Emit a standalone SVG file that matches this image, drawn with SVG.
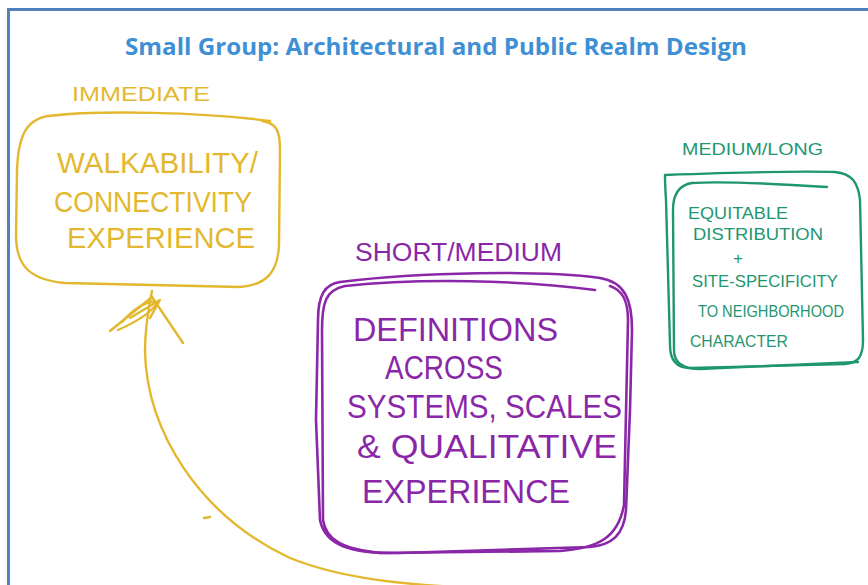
<svg xmlns="http://www.w3.org/2000/svg" width="868" height="585" viewBox="0 0 868 585">
<style>
  .title { font-family: "Open Sans", "Noto Sans", "Liberation Sans", sans-serif; font-weight: bold; font-size: 23px; fill: #3F8FD4; }
  .hw { font-family: "Liberation Sans", "Noto Sans", sans-serif; font-weight: normal; }
  .y { fill: #E3B82E; }
  .p { fill: #8A27A8; }
  .g { fill: #1E9670; }
  .ys { fill: none; stroke: #E3B82E; stroke-width: 2.4; stroke-linecap: round; stroke-linejoin: round; }
  .ps { fill: none; stroke: #8A27A8; stroke-width: 2.6; stroke-linecap: round; stroke-linejoin: round; }
  .gs { fill: none; stroke: #1E9670; stroke-width: 2.4; stroke-linecap: round; stroke-linejoin: round; }
</style>
<rect x="0" y="0" width="868" height="585" fill="#FFFFFF"/>
<rect x="8.5" y="9.5" width="900" height="620" fill="none" stroke="#4F81BD" stroke-width="3"/>
<text class="title" x="436" y="55" text-anchor="middle" textLength="622" lengthAdjust="spacingAndGlyphs">Small Group: Architectural and Public Realm Design</text>

<g id="connectors">
  <path class="ys" d="M 152 291 C 148 310 145 330 145 352 C 147 430 198 515 290 558 C 340 578 400 585 480 588"/>
  <path class="ys" d="M 110 331 L 152 297 L 183 343"/>
  <path class="ys" d="M 122 322 C 134 308 148 300 158 302 C 152 312 136 322 118 330"/>
  <path class="ys" d="M 130 318 L 160 300 L 150 318"/>
  <path class="ys" d="M 204 518 L 210 517"/>
</g>

<g id="node-immediate">
  <text class="hw y" x="72" y="101" font-size="21" textLength="138" lengthAdjust="spacingAndGlyphs">IMMEDIATE</text>
  <path class="ys" d="M 270 121 C 200 112 100 110 48 116 C 24 120 18 140 17 170 L 16 235 C 16 266 30 280 65 283 L 240 287 C 268 285 278 270 279 245 L 280 150 C 280 130 276 123 262 121"/>
  <text class="hw y" x="57" y="173" font-size="30" textLength="201" lengthAdjust="spacingAndGlyphs">WALKABILITY/</text>
  <text class="hw y" x="54" y="212" font-size="30" textLength="198" lengthAdjust="spacingAndGlyphs">CONNECTIVITY</text>
  <text class="hw y" x="67" y="248" font-size="30" textLength="188" lengthAdjust="spacingAndGlyphs">EXPERIENCE</text>
</g>

<g id="node-short-medium">
  <text class="hw p" x="355" y="261" font-size="25" textLength="207" lengthAdjust="spacingAndGlyphs">SHORT/MEDIUM</text>
  <path class="ps" d="M 340 282 C 420 272 540 270 600 278 C 625 282 632 300 632 330 L 630 410 L 626 510 C 624 535 612 545 590 547 L 400 553 C 350 554 325 545 320 520 L 316 420 L 318 320 C 318 295 325 284 340 282 Z"/>
  <path class="ps" d="M 595 290 C 520 280 420 278 345 286 C 326 290 322 302 322 330 L 323 520 C 326 540 342 549 380 553 L 560 551 C 598 548 618 538 624 505 L 628 320 C 628 300 622 290 610 286"/>
  <text class="hw p" x="353" y="341" font-size="34" textLength="205" lengthAdjust="spacingAndGlyphs">DEFINITIONS</text>
  <text class="hw p" x="385" y="379" font-size="34" textLength="118" lengthAdjust="spacingAndGlyphs">ACROSS</text>
  <text class="hw p" x="347" y="418" font-size="34" textLength="275" lengthAdjust="spacingAndGlyphs">SYSTEMS, SCALES</text>
  <text class="hw p" x="357" y="458" font-size="34" textLength="260" lengthAdjust="spacingAndGlyphs">&amp; QUALITATIVE</text>
  <text class="hw p" x="362" y="503" font-size="34" textLength="208" lengthAdjust="spacingAndGlyphs">EXPERIENCE</text>
</g>

<g id="node-medium-long">
  <text class="hw g" x="682" y="155" font-size="17" textLength="141" lengthAdjust="spacingAndGlyphs">MEDIUM/LONG</text>
  <path class="gs" d="M 665 175 C 720 173 800 171 835 172 C 852 174 858 182 860 200 L 863 340 C 863 357 858 363 845 364 L 690 368 C 676 368 670 360 670 345 L 666 200 C 665 185 665 178 665 175 Z"/>
  <path class="gs" d="M 827 187 C 780 184 720 181 692 183 C 679 185 673 195 673 210 L 674 350 C 674 362 682 369 700 369 L 858 362"/>
  <text class="hw g" x="688" y="219" font-size="17" textLength="100" lengthAdjust="spacingAndGlyphs">EQUITABLE</text>
  <text class="hw g" x="693" y="240" font-size="17" textLength="130" lengthAdjust="spacingAndGlyphs">DISTRIBUTION</text>
  <text class="hw g" x="738" y="264" font-size="17" text-anchor="middle">+</text>
  <text class="hw g" x="692" y="287" font-size="17" textLength="146" lengthAdjust="spacingAndGlyphs">SITE-SPECIFICITY</text>
  <text class="hw g" x="698" y="317" font-size="17" textLength="146" lengthAdjust="spacingAndGlyphs">TO NEIGHBORHOOD</text>
  <text class="hw g" x="690" y="347" font-size="17" textLength="98" lengthAdjust="spacingAndGlyphs">CHARACTER</text>
</g>
</svg>
